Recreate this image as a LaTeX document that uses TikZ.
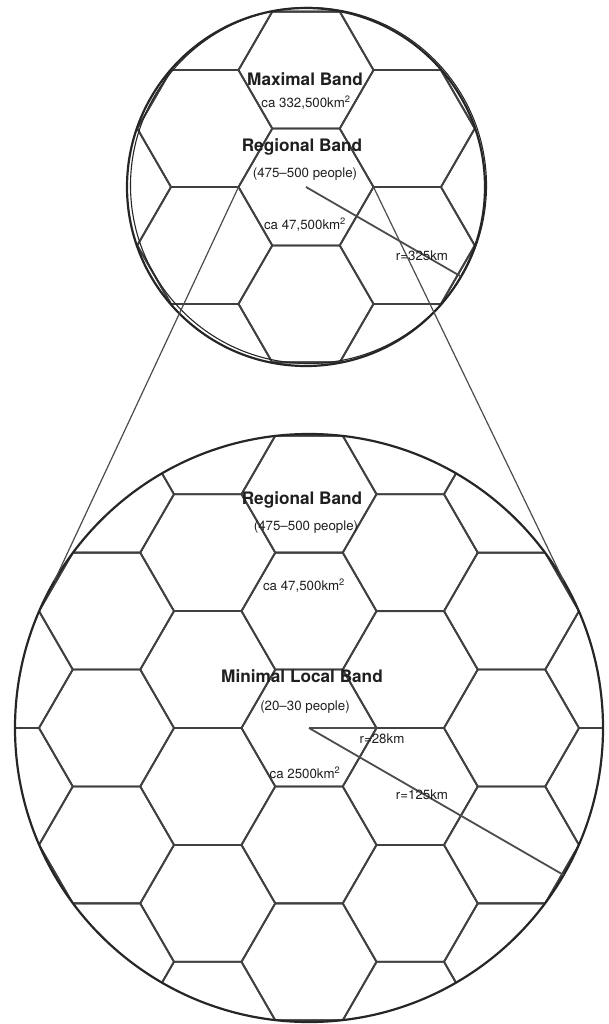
\documentclass[tikz,border=0pt]{standalone}
\usepackage{fontspec}
\setmainfont{TeX Gyre Heros}
\usetikzlibrary{calc}
\newcommand{\hexcell}[2]{\draw[hexline] (#1,#2) +(0:67.5) -- +(60:67.5) -- +(120:67.5) -- +(180:67.5) -- +(240:67.5) -- +(300:67.5) -- cycle;}
\begin{document}
\begin{tikzpicture}[x=1pt,y=-1pt,
  hexline/.style={draw=black!75,line width=1.8pt,line join=round},
  rim/.style={draw=black!85,line width=2.2pt},
  spoke/.style={draw=black!70,line width=1.8pt},
  guide/.style={draw=black!70,line width=1.2pt},
  bandtitle/.style={font=\fontsize{17.2}{20}\selectfont\bfseries,text=black!88,inner sep=0pt},
  bandnote/.style={font=\fontsize{13.3}{16}\selectfont,text=black!88,inner sep=0pt}]
\useasboundingbox (0,0) rectangle (608,1024);
\coordinate (topc) at (306,187);
\coordinate (botc) at (309,728);
\begin{scope}
\clip (topc) circle[radius=179pt];
\foreach \i in {-3,...,3}
  \foreach \j in {-4,...,4}
    {\hexcell{306+101.25*\i}{187+58.46*\i+116.91*\j}}
\end{scope}
\begin{scope}
\clip (botc) circle[radius=294pt];
\foreach \i in {-4,...,4}
  \foreach \j in {-6,...,6}
    {\hexcell{309+101.25*\i}{728+58.46*\i+116.91*\j}}
\end{scope}
\draw[rim] (topc) circle[radius=179pt];
\draw[rim,line width=1.1pt] ($(topc)+(2.5,-1.5)$) circle[radius=178pt];
\draw[rim] (botc) circle[radius=294pt];
\coordinate (topl) at ($(topc)+(-67.5,0)$);
\coordinate (topr) at ($(topc)+(67.5,0)$);
\coordinate (botl) at ($(botc)+(210:294)$);
\coordinate (botr) at ($(botc)+(330:294)$);
\draw[guide] (topl) -- (botl);
\draw[guide] (topr) -- (botr);
\coordinate (toprim) at ($(topc)+(30:179)$);
\coordinate (botvert) at ($(botc)+(67.5,0)$);
\coordinate (botrim) at ($(botc)+(30:294)$);
\draw[spoke] (topc) -- (toprim);
\draw[spoke] (botc) -- (botvert);
\draw[spoke] (botc) -- (botrim);
\node[bandtitle] (maxband) at (305,79) {Maximal Band};
\node[bandnote] (maxarea) at (306,103) {ca 332,500km\textsuperscript{2}};
\node[bandtitle] (regband) at (302,147) {Regional Band};
\node[bandnote] (regpeople) at (305,174) {(475–500 people)};
\node[bandnote] (regarea) at (305,225) {ca 47,500km\textsuperscript{2}};
\node[bandnote] (toprad) at (422,256) {r=325km};
\node[bandtitle] (regbandlow) at (302,500) {Regional Band};
\node[bandnote] (regpeoplelow) at (306,527) {(475–500 people)};
\node[bandnote] (regarealow) at (304,586) {ca 47,500km\textsuperscript{2}};
\node[bandtitle] (minband) at (302,676) {Minimal Local Band};
\node[bandnote] (minpeople) at (305,707) {(20–30 people)};
\node[bandnote] (minrad) at (382,739) {r=28km};
\node[bandnote] (minarea) at (305,773) {ca 2500km\textsuperscript{2}};
\node[bandnote] (botrad) at (422,795) {r=125km};
\end{tikzpicture}
\end{document}
